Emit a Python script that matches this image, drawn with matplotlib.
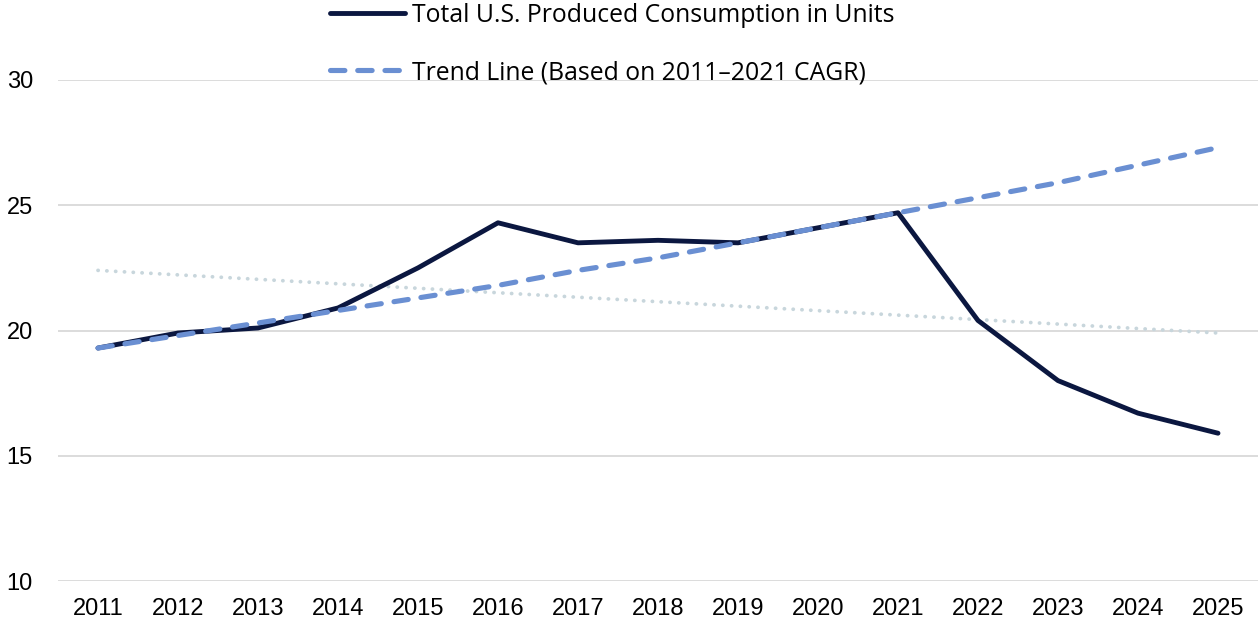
import matplotlib
matplotlib.use("Agg")
import matplotlib.pyplot as plt
from matplotlib.lines import Line2D

years = ["2011", "2012", "2013", "2014", "2015", "2016", "2017", "2018",
         "2019", "2020", "2021", "2022", "2023", "2024", "2025"]
total_units = [19.3, 19.9, 20.1, 20.9, 22.5, 24.3, 23.5, 23.6, 23.5, 24.1,
               24.7, 20.4, 18.0, 16.7, 15.9]
cagr_trend = [19.3, 19.8, 20.3, 20.8, 21.3, 21.8, 22.4, 22.9, 23.5, 24.1,
              24.7, 25.3, 25.9, 26.6, 27.3]
linear_trend_ends = [22.4, 19.9]  # 2011 and 2025
y_ticks = [10, 15, 20, 25, 30]

plt.rcParams['font.family'] = ['Liberation Sans', 'DejaVu Sans']

fig = plt.figure(figsize=(12.58, 6.26), dpi=100)
ax = fig.add_axes([58/1258, 45/626, 1 - 58/1258, (581-80)/626])

x = list(range(len(years)))
DARK = "#0b1740"
BLUE = "#6a8fd2"
DOT = "#c8d6dc"

ax.plot([x[0], x[-1]], linear_trend_ends, color=DOT, lw=2.7,
        linestyle=(0, (0.05, 2.3)), dash_capstyle='round', zorder=2)
ax.plot(x, total_units, color=DARK, lw=3.5, solid_joinstyle='round',
        solid_capstyle='round', zorder=3)
ax.plot(x, cagr_trend, color=BLUE, lw=3.7, dashes=(2.8, 2.5),
        dash_capstyle='round', zorder=4)

ax.set_xlim(-0.5, len(years) - 0.5)
ax.set_ylim(10, 30)
ax.set_yticks(y_ticks)
ax.set_xticks(x)
ax.set_xticklabels(years)
ax.grid(axis='y', color='#d9d9d9', lw=1.3)
ax.set_axisbelow(True)
for s in ax.spines.values():
    s.set_visible(False)
ax.tick_params(axis='both', length=0, labelsize=17, colors='#000000')
ax.tick_params(axis='y', pad=18)
ax.tick_params(axis='x', pad=12)

handles = [
    Line2D([0], [0], color=DARK, lw=3.5, solid_capstyle='round'),
    Line2D([0], [0], color=BLUE, lw=3.7, dashes=(2.8, 2.5), dash_capstyle='round'),
]
labels = ["Total U.S. Produced Consumption in Units",
          "Trend Line (Based on 2011\u20132021 CAGR)"]
fig.legend(handles, labels, loc='upper left',
           bbox_to_anchor=(330/1258, 1 - 3/626), frameon=False,
           prop={'family': ['Open Sans', 'DejaVu Sans'], 'size': 17.8},
           handlelength=3.05, handletextpad=0.25,
           labelspacing=1.3, borderpad=0, borderaxespad=0)

fig.savefig("out.png", dpi=100)
